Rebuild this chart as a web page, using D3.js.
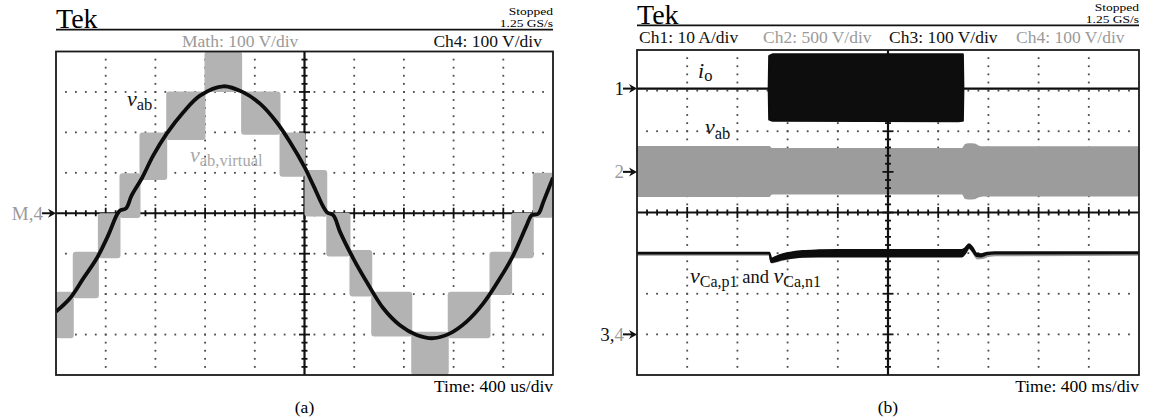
<!DOCTYPE html>
<html>
<head>
<meta charset="utf-8">
<script src="https://cdnjs.cloudflare.com/ajax/libs/d3/7.8.5/d3.min.js"></script>
<style>
body{margin:0;background:#fff;}
svg{display:block;font-family:"Liberation Serif","Times New Roman",serif;}
</style>
</head>
<body>
<svg id="chart" width="1150" height="419"></svg>
<script>

//////panel (a) data: time in us, volts
var aTime = [0,113,220,327,421,488,515,563,609,690,783,891,1025,1159,1347,1508,1642,1776,1883,2004,2071,2179,2232,2286,2393,2501,2634,2768,2903,3037,3171,3305,3439,3573,3680,3788,3828,3882,3922,4000];
var aVab  = [-243,-210,-161,-112,-54,-5,7,12,44,86,143,197,250,291,314,299,271,225,176,112,69,3,-5,-46,-112,-170,-235,-277,-301,-309,-297,-268,-223,-161,-104,-30,-5,-1,28,88];

//virtual vab = switching bands between two levels
var aStepStart = [0,139,341,515,676,891,1199,1494,1803,2004,2179,2366,2541,2863,3157,3493,3667,3841];
var aStepEnd   = [139,341,515,676,891,1199,1494,1803,2004,2179,2366,2541,2863,3157,3493,3667,3841,4000];
var aStepLow   = [-309,-210,-111,-12,82,181,300,194,90,-8,-107,-206,-305,-400,-309,-202,-111,-11];
var aStepHigh  = [-194,-95,0,99,200,301,400,301,200,107,1,-91,-194,-293,-194,-95,1,100];

//////panel (b) data: time in ms
//ch1 output current envelope (A)
var bIoTime = [0,1050,1054,1080,2560,2596,2600,4000];
var bIoLow  = [0,0,-7.6,-7.9,-8.0,-7.9,0,0];
var bIoHigh = [0,0,8.0,8.4,8.4,8.4,0,0];

//ch2 vab envelope (V)
var bVabTime = [0,1055,1075,2590,2612,2640,2690,2725,2760,4000];
var bVabLow  = [-308,-308,-277,-277,-330,-339,-336,-312,-304,-304];
var bVabHigh = [320,320,293,293,340,351,348,322,314,314];

//ch3 capacitor voltage envelope (V)
var bCapTime = [0,1055,1070,1100,1150,1220,1320,1450,1600,2590,2615,2645,2675,2705,2740,2790,2850,4000];
var bCapLow  = [199,199,178,180,184,188,191,192,192,192,200,214,205,193,192,197,199,200];
var bCapHigh = [201,201,186,190,196,201,205,207,208,208,212,222,213,199,197,201,202,202];

//ch4 second capacitor voltage (V)
var bCapN1Time = [0,1055,1075,1150,1300,1600,2590,2620,2648,2680,2712,2750,2800,2860,4000];
var bCapN1     = [199,199,180,186,194,199,199,206,216,205,190,191,196,198,199];

//header texts
var aChannels = [{text:"Math: 100 V/div", grey:true}, {text:"Ch4: 100 V/div", grey:false}];
var bChannels = [{text:"Ch1: 10 A/div", grey:false}, {text:"Ch2: 500 V/div", grey:true},
                 {text:"Ch3: 100 V/div", grey:false}, {text:"Ch4: 100 V/div", grey:true}];

var grey = "#9a9a9a";
var svg = d3.select("#chart");

var boxA = {x0:56, x1:553, y0:51.5, y1:375};
var boxB = {x0:637, x1:1139, y0:50, y1:375};

function divScales(box){
  return {
    x: d3.scaleLinear().domain([0,10]).range([box.x0, box.x1]),
    y: d3.scaleLinear().domain([-4,4]).range([box.y1, box.y0])
  };
}

function drawDots(g, box){
  var s = divScales(box);
  var dots = [];
  for(var k = 1; k < 10; k++){
    if(k == 5) continue;
    for(var j = 1; j < 40; j++){ dots.push([s.x(k), s.y(-4 + j/5)]); }
  }
  for(var k = -3; k < 4; k++){
    if(k == 0) continue;
    for(var j = 1; j < 50; j++){ dots.push([s.x(j/5), s.y(k)]); }
  }
  g.append("g").selectAll("rect").data(dots).enter().append("rect")
    .attr("x", function(d){ return d[0]-0.9; })
    .attr("y", function(d){ return d[1]-0.9; })
    .attr("width", 1.8).attr("height", 1.8)
    .attr("fill", "#4a4a4a");
}

function drawAxes(g, box){
  var s = divScales(box);
  var cx = s.x(5), cy = s.y(0);
  var ax = g.append("g").attr("stroke", "#111");
  ax.append("line").attr("x1", box.x0).attr("x2", box.x1).attr("y1", cy).attr("y2", cy).attr("stroke-width", 2.2);
  ax.append("line").attr("x1", cx).attr("x2", cx).attr("y1", box.y0).attr("y2", box.y1).attr("stroke-width", 2.2);
  var hx = d3.range(1, 50).map(function(j){ return j/5; });
  var vy = d3.range(1, 40).map(function(j){ return -4 + j/5; });
  function major(d){ return Math.abs(d - Math.round(d)) < 0.01; }
  ax.selectAll(".hx").data(hx).enter().append("line")
    .attr("x1", function(d){ return s.x(d); }).attr("x2", function(d){ return s.x(d); })
    .attr("y1", function(d){ return cy - (major(d) ? 5.5 : 3); })
    .attr("y2", function(d){ return cy + (major(d) ? 5.5 : 3); })
    .attr("stroke-width", 1.8);
  ax.selectAll(".vy").data(vy).enter().append("line")
    .attr("y1", function(d){ return s.y(d); }).attr("y2", function(d){ return s.y(d); })
    .attr("x1", function(d){ return cx - (major(d) ? 5.5 : 3); })
    .attr("x2", function(d){ return cx + (major(d) ? 5.5 : 3); })
    .attr("stroke-width", 1.8);
}

function drawFrame(g, box){
  g.append("rect").attr("x", box.x0).attr("y", box.y0)
    .attr("width", box.x1-box.x0).attr("height", box.y1-box.y0)
    .attr("fill", "none").attr("stroke", "#1a1a1a").attr("stroke-width", 1.8);
}

function addClip(id, box){
  svg.append("clipPath").attr("id", id).append("rect")
    .attr("x", box.x0).attr("y", box.y0)
    .attr("width", box.x1-box.x0).attr("height", box.y1-box.y0);
}

function drawHeader(box, tekBase, stopBase){
  svg.append("text").attr("x", box.x0).attr("y", tekBase).attr("font-size", 28).text("Tek");
  svg.append("line").attr("x1", box.x0).attr("x2", box.x1)
    .attr("y1", tekBase+1.3).attr("y2", tekBase+1.3)
    .attr("stroke", "#111").attr("stroke-width", 1.8);
  //two squeezed status lines, as on the scope print
  ["Stopped", "1.25 GS/s"].forEach(function(txt, i){
    svg.append("text")
      .attr("transform", "translate(" + box.x1 + "," + (stopBase + i*12.3) + ") scale(1,0.84)")
      .attr("font-size", 13.5)
      .attr("text-anchor", "end").text(txt);
  });
}

function drawMarker(x, y, parts){
  var t = svg.append("text").attr("x", x-13).attr("y", y+6.5)
    .attr("font-size", 19).attr("text-anchor", "end");
  parts.forEach(function(p){
    t.append("tspan").attr("fill", p.grey ? grey : "#111").text(p.text);
  });
  svg.append("line").attr("x1", x-14).attr("x2", x-5).attr("y1", y).attr("y2", y)
    .attr("stroke", "#111").attr("stroke-width", 2);
  svg.append("path").attr("d", "M" + (x-8) + "," + (y-4.5) + "L" + x + "," + y + "L" + (x-8) + "," + (y+4.5) + "L" + (x-5.5) + "," + y + "Z")
    .attr("fill", "#111");
}

function drawLabel(x, y, parts, color){
  var t = svg.append("text").attr("x", x).attr("y", y).attr("fill", color);
  parts.forEach(function(p){
    var sp = t.append("tspan").text(p.text).attr("font-size", p.size);
    if(p.italic) sp.attr("font-style", "italic");
    if(p.dy) sp.attr("dy", p.dy);
  });
}

/////////////////////////////////////////////////////////////

function drawPanelA(){
  var box = boxA;
  var x = d3.scaleLinear().domain([0,4000]).range([box.x0, box.x1]);
  var y = d3.scaleLinear().domain([-400,400]).range([box.y1, box.y0]);

  drawHeader(box, 28.3, 14.5);
  svg.append("text").attr("x", 182).attr("y", 46.5).attr("font-size", 17.5)
    .attr("fill", grey).text(aChannels[0].text);
  svg.append("text").attr("x", 542).attr("y", 46.5).attr("font-size", 17.5)
    .attr("text-anchor", "end").attr("fill", "#111").text(aChannels[1].text);

  addClip("clipA", box);
  var g = svg.append("g");
  drawDots(g, box);
  drawAxes(g, box);

  var plot = svg.append("g").attr("clip-path", "url(#clipA)");

  //stepped virtual voltage bands
  var steps = aStepStart.map(function(d, i){
    return {t0:d, t1:aStepEnd[i], lo:aStepLow[i], hi:aStepHigh[i]};
  });
  plot.selectAll(".band").data(steps).enter().append("rect")
    .attr("x", function(d){ return x(d.t0) - 0.5; })
    .attr("width", function(d){ return x(d.t1) - x(d.t0) + 1; })
    .attr("y", function(d){ return y(d.hi); })
    .attr("height", function(d){ return y(d.lo) - y(d.hi); })
    .attr("rx", 3)
    .attr("fill", "#b3b3b3");

  //fundamental
  var lineData = aTime.map(function(d, i){ return {t:d, v:aVab[i]}; });
  var line = d3.line()
    .x(function(d){ return x(d.t); })
    .y(function(d){ return y(d.v); })
    .curve(d3.curveCatmullRom.alpha(0.5));
  plot.append("path").datum(lineData).attr("d", line)
    .attr("fill", "none").attr("stroke", "#0d0d0d").attr("stroke-width", 3.8);

  drawFrame(svg, box);
  drawMarker(box.x0, y(0), [{text:"M,4", grey:true}]);

  drawLabel(127, 106, [{text:"v", italic:true, size:22}, {text:"ab", size:16.5, dy:4}], "#111");
  drawLabel(190, 162, [{text:"v", italic:true, size:22}, {text:"ab,virtual", size:16.5, dy:4}], "#a8a8a8");

  svg.append("text").attr("x", box.x1).attr("y", 392).attr("font-size", 17.5)
    .attr("text-anchor", "end").text("Time: 400 us/div");
  svg.append("text").attr("x", (box.x0+box.x1)/2).attr("y", 413).attr("font-size", 17.5)
    .attr("text-anchor", "middle").text("(a)");
}

function drawPanelB(){
  var box = boxB;
  var s = divScales(box);
  var x = d3.scaleLinear().domain([0,4000]).range([box.x0, box.x1]);
  //channel position (div) and scale (units/div)
  var ch = {
    1: {pos:3.05, scale:10},
    2: {pos:1, scale:500},
    3: {pos:-3, scale:100},
    4: {pos:-3, scale:100}
  };
  function yc(n, v){ return s.y(ch[n].pos + v/ch[n].scale); }

  drawHeader(box, 24, 11);
  var chX = [639, 763, 889, 1016];
  bChannels.forEach(function(c, i){
    svg.append("text").attr("x", chX[i]).attr("y", 43).attr("font-size", 17.5)
      .attr("fill", c.grey ? grey : "#111").text(c.text);
  });

  addClip("clipB", box);
  var g = svg.append("g");
  drawDots(g, box);

  var plot = svg.append("g").attr("clip-path", "url(#clipB)");

  function envelope(n){
    return d3.area()
      .x(function(d){ return x(d.t); })
      .y0(function(d){ return yc(n, d.lo); })
      .y1(function(d){ return yc(n, d.hi); });
  }

  var vabData = bVabTime.map(function(d, i){ return {t:d, lo:bVabLow[i], hi:bVabHigh[i]}; });
  plot.append("path").datum(vabData).attr("d", envelope(2).curve(d3.curveMonotoneX))
    .attr("fill", "#9c9c9c");

  drawAxes(plot, box);

  var ioData = bIoTime.map(function(d, i){ return {t:d, lo:bIoLow[i], hi:bIoHigh[i]}; });
  plot.append("path").datum(ioData).attr("d", envelope(1))
    .attr("fill", "#0d0d0d").attr("stroke", "#0d0d0d").attr("stroke-width", 2.2)
    .attr("stroke-linejoin", "round");

  var n1Data = bCapN1Time.map(function(d, i){ return {t:d, v:bCapN1[i]}; });
  plot.append("path").datum(n1Data)
    .attr("d", d3.line().x(function(d){ return x(d.t); })
      .y(function(d){ return yc(4, d.v) + 1; }).curve(d3.curveMonotoneX))
    .attr("fill", "none").attr("stroke", "#9a9a9a").attr("stroke-width", 2.6);

  var capData = bCapTime.map(function(d, i){ return {t:d, lo:bCapLow[i], hi:bCapHigh[i]}; });
  plot.append("path").datum(capData).attr("d", envelope(3).curve(d3.curveMonotoneX))
    .attr("fill", "#0d0d0d").attr("stroke", "#0d0d0d").attr("stroke-width", 2);

  drawFrame(svg, box);
  drawMarker(box.x0, yc(1, 0), [{text:"1", grey:false}]);
  drawMarker(box.x0, yc(2, 0), [{text:"2", grey:true}]);
  drawMarker(box.x0, yc(3, 0), [{text:"3,", grey:false}, {text:"4", grey:true}]);

  drawLabel(698, 78, [{text:"i", italic:true, size:22}, {text:"o", size:16.5, dy:3}], "#111");
  drawLabel(705, 134, [{text:"v", italic:true, size:22}, {text:"ab", size:16.5, dy:5}], "#111");
  drawLabel(690, 283, [
    {text:"v", italic:true, size:22},
    {text:"Ca,p1", size:16, dy:4},
    {text:" and ", size:18.5, dy:-4},
    {text:"v", italic:true, size:22},
    {text:"Ca,n1", size:16, dy:4}
  ], "#111");

  svg.append("text").attr("x", box.x1).attr("y", 392).attr("font-size", 17.5)
    .attr("text-anchor", "end").text("Time: 400 ms/div");
  svg.append("text").attr("x", (box.x0+box.x1)/2).attr("y", 413).attr("font-size", 17.5)
    .attr("text-anchor", "middle").text("(b)");
}

drawPanelA();
drawPanelB();

</script>
</body>
</html>
